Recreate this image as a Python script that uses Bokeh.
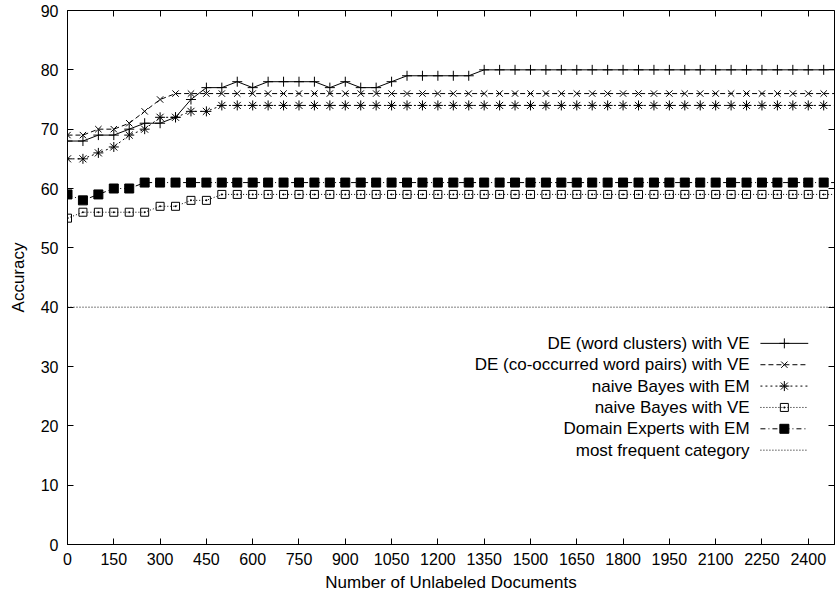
from bokeh.plotting import figure
from bokeh.models import LinearAxis, FixedTicker, Range1d
from bokeh.embed import file_html
from bokeh.resources import INLINE
from bokeh.core.properties import value

# ---------------- data ----------------
x_docs = [0, 50, 100, 150, 200, 250, 300, 350, 400, 450, 500, 550, 600, 650, 700,
          750, 800, 850, 900, 950, 1000, 1050, 1100, 1150, 1200, 1250, 1300, 1350,
          1400, 1450, 1500, 1550, 1600, 1650, 1700, 1750, 1800, 1850, 1900, 1950,
          2000, 2050, 2100, 2150, 2200, 2250, 2300, 2350, 2400, 2450, 2500]

de_word_clusters_ve = [68, 68, 69, 69, 70, 71, 71, 72, 75, 77, 77, 78, 77, 78, 78,
                       78, 78, 77, 78, 77, 77, 78, 79, 79, 79, 79, 79, 80,
                       80, 80, 80, 80, 80, 80, 80, 80, 80, 80, 80, 80,
                       80, 80, 80, 80, 80, 80, 80, 80, 80, 80, 80]

de_cooccurred_ve = [69, 69, 70, 70, 71, 73, 75, 76, 76, 76, 76, 76, 76, 76, 76,
                    76, 76, 76, 76, 76, 76, 76, 76, 76, 76, 76, 76, 76,
                    76, 76, 76, 76, 76, 76, 76, 76, 76, 76, 76, 76,
                    76, 76, 76, 76, 76, 76, 76, 76, 76, 76, 76]

naive_bayes_em = [65, 65, 66, 67, 69, 70, 72, 72, 73, 73, 74, 74, 74, 74, 74,
                  74, 74, 74, 74, 74, 74, 74, 74, 74, 74, 74, 74, 74,
                  74, 74, 74, 74, 74, 74, 74, 74, 74, 74, 74, 74,
                  74, 74, 74, 74, 74, 74, 74, 74, 74, 74, 74]

naive_bayes_ve = [55, 56, 56, 56, 56, 56, 57, 57, 58, 58, 59, 59, 59, 59, 59,
                  59, 59, 59, 59, 59, 59, 59, 59, 59, 59, 59, 59, 59,
                  59, 59, 59, 59, 59, 59, 59, 59, 59, 59, 59, 59,
                  59, 59, 59, 59, 59, 59, 59, 59, 59, 59, 59]

domain_experts_em = [59, 58, 59, 60, 60, 61, 61, 61, 61, 61, 61, 61, 61, 61, 61,
                     61, 61, 61, 61, 61, 61, 61, 61, 61, 61, 61, 61, 61,
                     61, 61, 61, 61, 61, 61, 61, 61, 61, 61, 61, 61,
                     61, 61, 61, 61, 61, 61, 61, 61, 61, 61, 61]

most_frequent = [40, 40, 40, 40, 40, 40, 40, 40, 40, 40, 40, 40, 40, 40, 40,
                 40, 40, 40, 40, 40, 40, 40, 40, 40, 40, 40, 40, 40,
                 40, 40, 40, 40, 40, 40, 40, 40, 40, 40, 40, 40,
                 40, 40, 40, 40, 40, 40, 40, 40, 40, 40, 40]

series_labels = ["DE (word clusters) with VE",
                 "DE (co-occurred word pairs) with VE",
                 "naive Bayes with EM",
                 "naive Bayes with VE",
                 "Domain Experts with EM",
                 "most frequent category"]

x_ticks = [0, 150, 300, 450, 600, 750, 900, 1050, 1200, 1350, 1500, 1650, 1800,
           1950, 2100, 2250, 2400]
y_ticks = [0, 10, 20, 30, 40, 50, 60, 70, 80, 90]

x_title = "Number of Unlabeled Documents"
y_title = "Accuracy"

# ---------------- styles ----------------
FONT = "Liberation Sans"
FS_TICK = "16px"
FS_TEXT = "17px"
styles = [
    dict(dash="solid", marker="cross", size=10, fill=None),
    dict(dash="5 3", marker="x", size=9, fill=None),
    dict(dash="2 3", marker="asterisk", size=10, fill=None),
    dict(dash="1 2", marker="square_dot", size=8, fill=None),
    dict(dash="5 3 1 3", marker="square", size=9, fill="black"),
    dict(dash="1 2", marker=None, size=0, fill=None),
]
all_series = [de_word_clusters_ve, de_cooccurred_ve, naive_bayes_em,
              naive_bayes_ve, domain_experts_em, most_frequent]

p = figure(width=838, height=600, output_backend="svg", toolbar_location=None,
           x_range=Range1d(0, 2485), y_range=Range1d(0, 90),
           min_border_left=67, min_border_right=4, min_border_top=10,
           min_border_bottom=56)
p.grid.visible = False
p.background_fill_color = "white"
p.border_fill_color = "white"
p.outline_line_color = "black"
p.outline_line_width = 1

for ax, ticks, title in ((p.xaxis[0], x_ticks, x_title), (p.yaxis[0], y_ticks, y_title)):
    ax.ticker = FixedTicker(ticks=ticks)
    ax.major_tick_in = 6
    ax.major_tick_out = 0
    ax.minor_tick_in = 0
    ax.minor_tick_out = 0
    ax.axis_line_color = "black"
    ax.major_tick_line_color = "black"
    ax.major_label_text_font = FONT
    ax.major_label_text_font_size = FS_TICK
    ax.major_label_text_color = "black"
    ax.axis_label = title
    ax.axis_label_text_font = FONT
    ax.axis_label_text_font_size = FS_TEXT
    ax.axis_label_text_font_style = "normal"
    ax.axis_label_text_color = "black"
p.xaxis[0].major_label_standoff = 8
p.xaxis[0].axis_label_standoff = 5
p.yaxis[0].major_label_standoff = 9
p.yaxis[0].axis_label_standoff = 10

for loc, ticks in (("above", x_ticks), ("right", y_ticks)):
    ax = LinearAxis(ticker=FixedTicker(ticks=ticks), major_tick_in=6, major_tick_out=0,
                    minor_tick_in=0, minor_tick_out=0, axis_line_color=None,
                    major_label_text_font_size="0px", major_label_text_alpha=0,
                    major_label_standoff=0)
    p.add_layout(ax, loc)

for ys, st in zip(all_series, styles):
    p.line(x_docs, ys, line_color="black", line_width=1, line_dash=st["dash"])
    if st["marker"]:
        p.scatter(x_docs, ys, marker=st["marker"], size=st["size"], line_color="black",
                  line_width=1, fill_color=st["fill"])

# ---------------- manual legend (gnuplot style: text left, sample right) ----------------
LEG_TEXT_X = 2210
LEG_X0, LEG_X1 = 2245, 2400
LEG_Y0, LEG_DY = 33.9, 3.6
for i, (lab, st) in enumerate(zip(series_labels, styles)):
    yy = LEG_Y0 - i * LEG_DY
    p.text(x=[LEG_TEXT_X], y=[yy], text=[lab], text_align="right",
           text_baseline="middle", text_font=value(FONT), text_font_size=FS_TEXT,
           text_color="black")
    p.line([LEG_X0, LEG_X1], [yy, yy], line_color="black", line_width=1,
           line_dash=st["dash"])
    if st["marker"]:
        p.scatter([(LEG_X0 + LEG_X1) / 2], [yy], marker=st["marker"], size=st["size"],
                  line_color="black", line_width=1, fill_color=st["fill"])

open("out.html", "w").write(file_html(p, INLINE))
